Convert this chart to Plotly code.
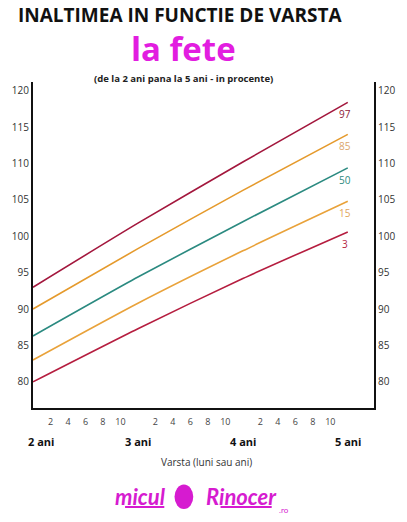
import plotly.graph_objects as go

# ---- data ----
age_months = [24, 36, 48, 60]
p97 = [93.0, 101.8, 110.2, 118.4]
p85 = [90.0, 98.3, 106.3, 114.0]
p50 = [86.3, 94.4, 102.0, 109.4]
p15 = [83.0, 90.8, 98.0, 104.8]
p3 = [80.0, 87.3, 94.2, 100.6]
series_names = ["97", "85", "50", "15", "3"]
series_values = [p97, p85, p50, p15, p3]
series_colors = ["#a3173d", "#e59a2c", "#2b8a80", "#e9a23a", "#b51d3f"]
label_colors = ["#8e1a3b", "#dca66b", "#2b8a80", "#e2a55a", "#b51d3f"]

y_ticks = [80, 85, 90, 95, 100, 105, 110, 115, 120]
month_tick_vals = [26, 28, 30, 32, 34, 38, 40, 42, 44, 46, 50, 52, 54, 56, 58]
month_tick_text = ["2", "4", "6", "8", "10"] * 3
year_vals = [24, 36, 48, 60]
year_text = ["2 ani", "3 ani", "4 ani", "5 ani"]

fig = go.Figure()
for name, vals, col in zip(series_names, series_values, series_colors):
    fig.add_trace(go.Scatter(x=age_months, y=vals, mode="lines",
                             line=dict(color=col, width=1.6, shape="spline", smoothing=0.6),
                             name=name, hoverinfo="skip"))
# invisible trace to show the right axis
fig.add_trace(go.Scatter(x=age_months, y=p50, mode="lines", yaxis="y2",
                         line=dict(color="rgba(0,0,0,0)"), hoverinfo="skip"))

for name, vals, col in zip(series_names, series_values, label_colors):
    fig.add_annotation(x=age_months[-1], y=vals[-1], xref="x", yref="y",
                       text=name, showarrow=False, xanchor="center",
                       yanchor="top", xshift=-3, yshift=-3,
                       font=dict(size=10, color=col, family="Open Sans"))

for v, t in zip(year_vals, year_text):
    fig.add_annotation(x=v, y=0, xref="x", yref="paper", text="<b>%s</b>" % t,
                       showarrow=False, yanchor="top", yshift=-24,
                       xshift=8 if v == 24 else 0,
                       font=dict(size=11, color="#111", family="Open Sans"))

# titles
fig.add_annotation(x=0.43, y=1.25, xref="paper", yref="paper", yanchor="top",
                   xanchor="center", text="<b>INALTIMEA IN FUNCTIE DE VARSTA</b>",
                   showarrow=False, borderpad=0,
                   font=dict(size=19, color="#111", family="Open Sans"))
fig.add_annotation(x=0.44, y=1.175, xref="paper", yref="paper", yanchor="top",
                   xanchor="center", text="<b>la fete</b>", showarrow=False, borderpad=0,
                   font=dict(size=33, color="#e21de0", family="Open Sans"))
fig.add_annotation(x=0.44, y=1.035, xref="paper", yref="paper", yanchor="top",
                   xanchor="center", text="<b>(de la 2 ani pana la 5 ani - in procente)</b>",
                   showarrow=False, borderpad=0,
                   font=dict(size=9.5, color="#222", family="Open Sans"))
fig.add_annotation(x=0.51, y=-0.166, xref="paper", yref="paper", yanchor="middle",
                   xanchor="center", text="Varsta (luni sau ani)", showarrow=False,
                   font=dict(size=10, color="#333", family="Open Sans"))
# logo
fig.add_annotation(x=0.316, y=-0.27, xref="paper", yref="paper", yanchor="middle",
                   xanchor="center", text="<b><i>micul</i></b>", showarrow=False,
                   font=dict(size=22, color="#d61bd0", family="Lato"))
fig.add_annotation(x=0.61, y=-0.27, xref="paper", yref="paper", yanchor="middle",
                   xanchor="center", text="<b><i>Rinocer</i></b>", showarrow=False,
                   font=dict(size=22, color="#d61bd0", family="Lato"))
fig.add_annotation(x=0.735, y=-0.312, xref="paper", yref="paper", yanchor="middle",
                   xanchor="center", text=".ro", showarrow=False, borderpad=0,
                   font=dict(size=8, color="#d61bd0", family="Lato"))
fig.add_shape(type="line", xref="paper", yref="paper", x0=0.27, x1=0.385, y0=-0.304, y1=-0.304,
              line=dict(color="#d61bd0", width=2))
fig.add_shape(type="line", xref="paper", yref="paper", x0=0.55, x1=0.70, y0=-0.304, y1=-0.304,
              line=dict(color="#d61bd0", width=2))
fig.add_shape(type="circle", xref="paper", yref="paper", x0=0.415, x1=0.47, y0=-0.31, y1=-0.235,
              fillcolor="#d61bd0", line=dict(width=0))

yax = dict(range=[76.4, 121.2], tickvals=y_ticks, showgrid=False, zeroline=False,
           showline=True, linecolor="#111", linewidth=2, ticks="",
           tickfont=dict(size=10, color="#333", family="Open Sans"))
fig.update_layout(
    width=407, height=522, margin=dict(l=32, r=17, t=82, b=114),
    paper_bgcolor="white", plot_bgcolor="white", showlegend=False,
    xaxis=dict(range=[24, 63], tickvals=month_tick_vals, ticktext=month_tick_text,
               showgrid=False, zeroline=False, showline=True, linecolor="#111",
               linewidth=2, ticks="", ticklen=0, ticklabelstandoff=4,
               tickfont=dict(size=9, color="#444", family="Open Sans")),
    yaxis=dict(**yax, side="left"),
    yaxis2=dict(**yax, side="right", overlaying="y"),
)
fig.write_html("out.html")
